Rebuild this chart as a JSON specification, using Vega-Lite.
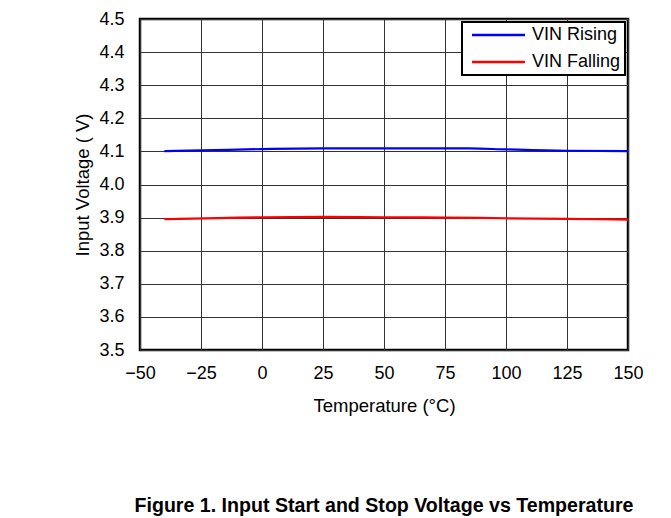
{
  "$schema": "https://vega.github.io/schema/vega-lite/v6.json",
  "width": 488,
  "height": 331,
  "autosize": {"type": "none"},
  "padding": {"left": 140, "top": 19, "right": 43, "bottom": 168},
  "background": "white",
  "config": {
    "font": "Liberation Sans",
    "view": {"stroke": "#000", "strokeWidth": 2.5},
    "legend": {"strokeWidth": 2},
    "axis": {
      "domain": false,
      "ticks": false,
      "tickSize": 0,
      "grid": true,
      "gridColor": "#333",
      "gridWidth": 1,
      "gridOpacity": 1,
      "labelFont": "Liberation Sans",
      "labelFontSize": 18,
      "labelColor": "#000",
      "titleFont": "Liberation Sans",
      "titleFontSize": 18.5,
      "titleFontWeight": "normal",
      "titleColor": "#000"
    }
  },
  "title": {
    "text": "Figure 1. Input Start and Stop Voltage vs Temperature",
    "orient": "bottom",
    "anchor": "middle",
    "font": "Liberation Sans",
    "fontSize": 19.6,
    "fontWeight": "bold",
    "color": "#000",
    "offset": 82
  },
  "data": {
    "values": [
      {"t": -40, "v": 4.101, "s": "VIN Rising"},
      {"t": -25, "v": 4.103, "s": "VIN Rising"},
      {"t": 0, "v": 4.107, "s": "VIN Rising"},
      {"t": 25, "v": 4.109, "s": "VIN Rising"},
      {"t": 50, "v": 4.109, "s": "VIN Rising"},
      {"t": 85, "v": 4.109, "s": "VIN Rising"},
      {"t": 100, "v": 4.106, "s": "VIN Rising"},
      {"t": 125, "v": 4.102, "s": "VIN Rising"},
      {"t": 150, "v": 4.101, "s": "VIN Rising"},
      {"t": -40, "v": 3.895, "s": "VIN Falling"},
      {"t": 0, "v": 3.901, "s": "VIN Falling"},
      {"t": 25, "v": 3.902, "s": "VIN Falling"},
      {"t": 50, "v": 3.901, "s": "VIN Falling"},
      {"t": 75, "v": 3.900, "s": "VIN Falling"},
      {"t": 100, "v": 3.898, "s": "VIN Falling"},
      {"t": 125, "v": 3.896, "s": "VIN Falling"},
      {"t": 150, "v": 3.894, "s": "VIN Falling"}
    ]
  },
  "mark": {"type": "line", "strokeWidth": 2.2, "interpolate": "monotone"},
  "encoding": {
    "x": {
      "field": "t",
      "type": "quantitative",
      "scale": {"domain": [-50, 150], "nice": false, "zero": false},
      "axis": {
        "values": [-50, -25, 0, 25, 50, 75, 100, 125, 150],
        "labelExpr": "replace(format(datum.value, 'd'), '-', '–')",
        "labelPadding": 14,
        "labelFlush": false,
        "title": "Temperature (°C)",
        "titlePadding": 14
      }
    },
    "y": {
      "field": "v",
      "type": "quantitative",
      "scale": {"domain": [3.5, 4.5], "nice": false, "zero": false},
      "axis": {
        "values": [3.5, 3.6, 3.7, 3.8, 3.9, 4.0, 4.1, 4.2, 4.3, 4.4, 4.5],
        "format": ".1f",
        "labelPadding": 16,
        "labelFlush": false,
        "title": "Input Voltage ( V)",
        "titlePadding": 6
      }
    },
    "color": {
      "field": "s",
      "type": "nominal",
      "scale": {"domain": ["VIN Rising", "VIN Falling"], "range": ["#0000ff", "#ff0000"]},
      "legend": {
        "title": null,
        "orient": "top-right",
        "offset": 3,
        "padding": 4,
        "strokeColor": "#000",
        "fillColor": "#fff",
        "symbolType": "M-0.6,0H10.0",
        "symbolSize": 100,
        "symbolStrokeWidth": 2.5,
        "symbolFillColor": "transparent",
        "labelOffset": 48,
        "labelFontSize": 18,
        "labelFont": "Liberation Sans",
        "labelColor": "#000",
        "rowPadding": 9
      }
    }
  }
}
